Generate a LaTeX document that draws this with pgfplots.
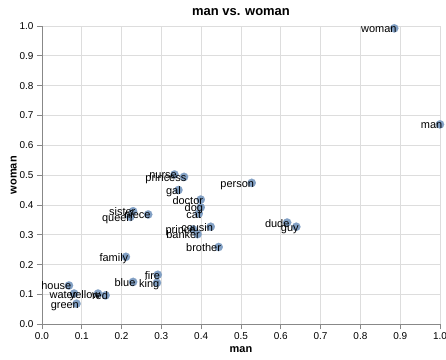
\documentclass[border=0pt]{standalone}
\usepackage{fontspec}
\setmainfont{Liberation Sans}
\usepackage{pgfplots}
\usepackage{pgfplotstable}
\pgfplotsset{compat=1.18}
\definecolor{ptc}{HTML}{82A0C4}
\definecolor{gridc}{HTML}{DDDDDD}
\definecolor{axc}{HTML}{888888}
\pgfplotstableread{
label x y
woman 0.885 0.992
man 1.0 0.670
nurse 0.333 0.502
princess 0.357 0.494
gal 0.343 0.450
person 0.527 0.474
doctor 0.399 0.418
dog 0.399 0.392
cat 0.394 0.371
sister 0.229 0.379
niece 0.267 0.368
queen 0.222 0.360
cousin 0.424 0.327
prince 0.380 0.318
banker 0.391 0.302
brother 0.444 0.259
dude 0.616 0.341
guy 0.639 0.327
family 0.211 0.226
fire 0.291 0.166
king 0.289 0.139
blue 0.229 0.142
house 0.068 0.130
water 0.081 0.103
yellow 0.141 0.103
red 0.160 0.097
green 0.087 0.069
}\words
\begin{document}
\begin{tikzpicture}
\begin{axis}[name=ax,
  scale only axis, width=399bp, height=299bp,
  xmin=0, xmax=1, ymin=0, ymax=1,
  xtick={0,0.1,0.2,0.3,0.4,0.5,0.6,0.7,0.8,0.9,1.0},
  ytick={0,0.1,0.2,0.3,0.4,0.5,0.6,0.7,0.8,0.9,1.0},
  grid=major, grid style={gridc, line width=0.6bp},
  axis x line*=bottom, axis y line*=left,
  axis line style={axc, -, line width=0.6bp},
  tick align=outside, major tick length=5bp,
  tick style={axc, line width=0.6bp},
  xticklabel style={font=\fontsize{10bp}{12bp}\selectfont, text=black},
  yticklabel style={font=\fontsize{10bp}{12bp}\selectfont, text=black},
  /pgf/number format/.cd, fixed, fixed zerofill, precision=1, assume math mode=true,
  /pgfplots/.cd,
  xlabel={man}, ylabel={woman},
  xlabel style={font=\fontsize{11bp}{13bp}\selectfont\bfseries},
  ylabel style={font=\fontsize{11bp}{13bp}\selectfont\bfseries, yshift=-4bp},
  title={man vs. woman},
  title style={font=\fontsize{13bp}{15bp}\selectfont\bfseries, anchor=base, at={(axis description cs:0.5,1)}, yshift=4bp},
  clip=false,
]
\addplot[only marks, mark=*, mark size=4.2bp, color=ptc, draw=ptc, fill=ptc,
  mark options={draw=ptc, fill=ptc, line width=0.1bp}]
  table[x=x, y=y] {\words};
\addplot[only marks, mark=none, nodes near coords, point meta=explicit symbolic,
  nodes near coords style={anchor=base east, inner sep=0pt, text=black,
  font=\fontsize{11bp}{13bp}\selectfont, xshift=2.5bp, yshift=-4.5bp}]
  table[x=x, y=y, meta=label] {\words};
\end{axis}
\pgfresetboundingbox
\useasboundingbox ([shift={(-42bp,-35bp)}]ax.south west) rectangle ([shift={(6bp,26bp)}]ax.north east);
\end{tikzpicture}
\end{document}
